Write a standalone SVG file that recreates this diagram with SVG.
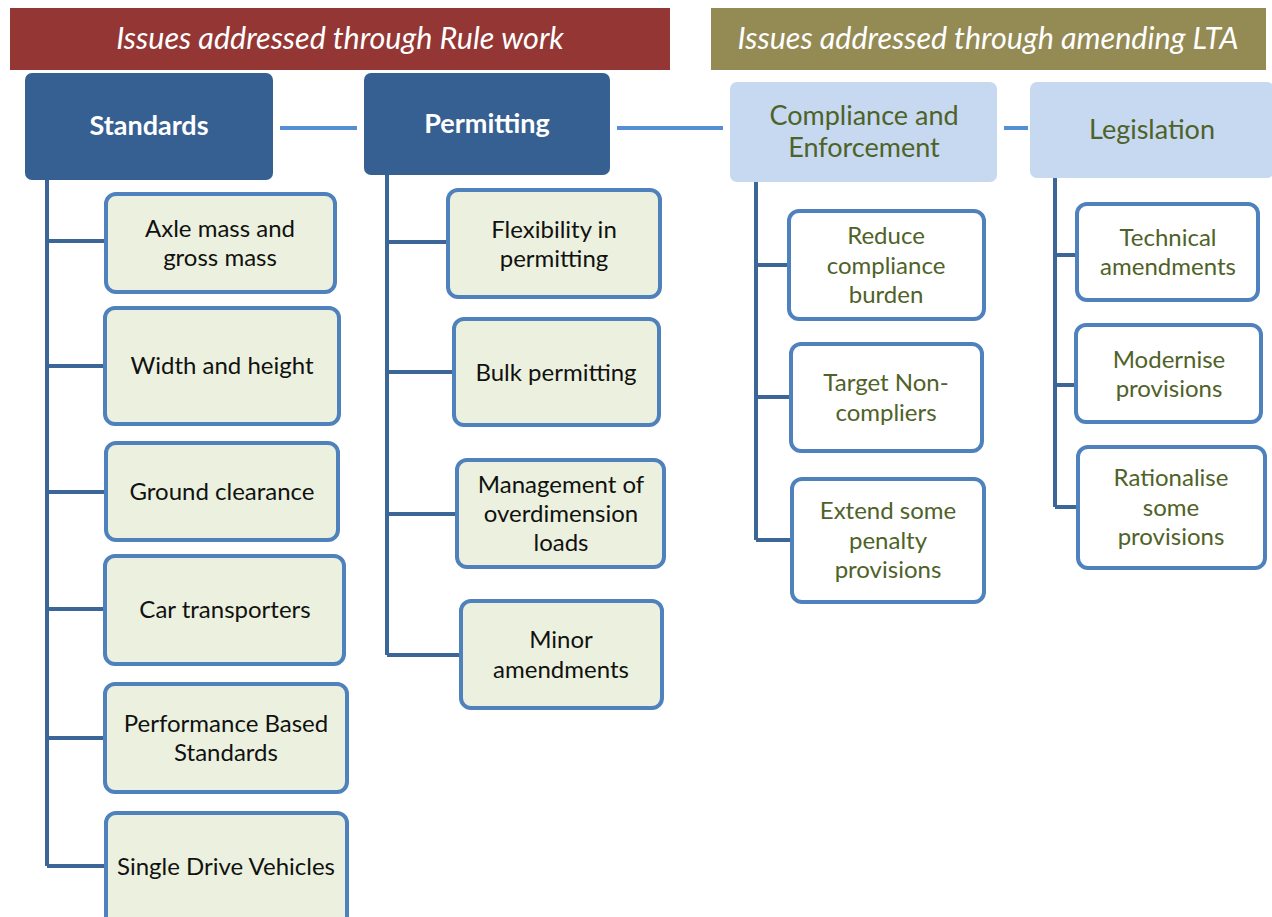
<svg xmlns="http://www.w3.org/2000/svg" width="1272" height="917" viewBox="0 0 1272 917">
<style>
text{font-family:Lato,"Open Sans","Liberation Sans",sans-serif;text-anchor:middle}
.ban{fill:#fff;font-style:italic;font-size:30.5px}
.hd{fill:#376092;}
.hdt{fill:#fff;font-weight:bold;font-size:27px}
.hl{fill:#C6D9F1}
.hlt{fill:#4F6228;font-size:27px}
.ch{fill:#EBF1DE;stroke:#4F81BD;stroke-width:4}
.cw{fill:#fff;stroke:#4F81BD;stroke-width:4}
.ct{fill:#111;font-size:24px}
.cg{fill:#4F6228;font-size:24px}
.tree{fill:none;stroke:#3D6698;stroke-width:4}
.link{fill:none;stroke:#558ED5;stroke-width:4}
</style>
<rect width="1272" height="917" fill="#fff"/>
<g id="banner-rule"><rect x="10" y="8" width="660" height="62" fill="#943634"/><text class="ban" x="340" y="49">Issues addressed through Rule work</text></g>
<g id="banner-lta"><rect x="711" y="8" width="555" height="62" fill="#948A54"/><text class="ban" x="988" y="49">Issues addressed through amending LTA</text></g>
<g id="connectors">
<path class="link" d="M280 128H357M617 128H723M1004 128H1028"/>
<path class="tree" d="M47 180V866M47 241H106M47 366H105M47 492H106M47 609H105M47 738H105M47 866H106"/>
<path class="tree" d="M387 175V655M387 242H448M387 372H454M387 514H457M387 655H461"/>
<path class="tree" d="M756 182V540M756 265H789M756 397H791M756 540H792"/>
<path class="tree" d="M1055 178V507M1055 255H1077M1055 385H1076M1055 507H1078"/>
</g>
<g id="standards"><rect class="hd" x="25" y="73" width="248" height="107" rx="7"/><text class="hdt" x="149" y="135">Standards</text></g>
<g id="permitting"><rect class="hd" x="364" y="73" width="246" height="102" rx="7"/><text class="hdt" x="487" y="133">Permitting</text></g>
<g id="compliance"><rect class="hl" x="730" y="82" width="267" height="100" rx="7"/><text class="hlt" x="864" y="125">Compliance and</text><text class="hlt" x="864" y="157">Enforcement</text></g>
<g id="legislation"><rect class="hl" x="1030" y="82" width="244" height="96" rx="7"/><text class="hlt" x="1152" y="139">Legislation</text></g>

<g id="axle"><rect class="ch" x="106" y="194" width="229" height="98" rx="10"/><text class="ct" x="220" y="237">Axle mass and</text><text class="ct" x="220" y="266">gross mass</text></g>
<g id="width"><rect class="ch" x="105" y="308" width="234" height="116" rx="10"/><text class="ct" x="222" y="374">Width and height</text></g>
<g id="ground"><rect class="ch" x="106" y="443" width="232" height="97" rx="10"/><text class="ct" x="222" y="500">Ground clearance</text></g>
<g id="car"><rect class="ch" x="105" y="556" width="239" height="108" rx="10"/><text class="ct" x="225" y="618">Car transporters</text></g>
<g id="pbs"><rect class="ch" x="105" y="684" width="242" height="108" rx="10"/><text class="ct" x="226" y="732">Performance Based</text><text class="ct" x="226" y="761">Standards</text></g>
<g id="single"><rect class="ch" x="106" y="813" width="241" height="115" rx="10"/><text class="ct" x="226" y="875">Single Drive Vehicles</text></g>

<g id="flex"><rect class="ch" x="448" y="190" width="212" height="107" rx="10"/><text class="ct" x="554" y="238">Flexibility in</text><text class="ct" x="554" y="267">permitting</text></g>
<g id="bulk"><rect class="ch" x="454" y="319" width="205" height="106" rx="10"/><text class="ct" x="556" y="381">Bulk permitting</text></g>
<g id="mgmt"><rect class="ch" x="457" y="460" width="207" height="107" rx="10"/><text class="ct" x="561" y="493">Management of</text><text class="ct" x="561" y="522">overdimension</text><text class="ct" x="561" y="551">loads</text></g>
<g id="minor"><rect class="ch" x="461" y="601" width="201" height="107" rx="10"/><text class="ct" x="561" y="648">Minor</text><text class="ct" x="561" y="678">amendments</text></g>

<g id="reduce"><rect class="cw" x="789" y="211" width="195" height="108" rx="10"/><text class="cg" x="886" y="244">Reduce</text><text class="cg" x="886" y="274">compliance</text><text class="cg" x="886" y="303">burden</text></g>
<g id="target"><rect class="cw" x="791" y="344" width="191" height="107" rx="10"/><text class="cg" x="886" y="391">Target Non-</text><text class="cg" x="886" y="421">compliers</text></g>
<g id="extend"><rect class="cw" x="792" y="479" width="192" height="123" rx="10"/><text class="cg" x="888" y="519">Extend some</text><text class="cg" x="888" y="549">penalty</text><text class="cg" x="888" y="578">provisions</text></g>

<g id="technical"><rect class="cw" x="1077" y="204" width="181" height="96" rx="10"/><text class="cg" x="1168" y="246">Technical</text><text class="cg" x="1168" y="275">amendments</text></g>
<g id="modernise"><rect class="cw" x="1076" y="325" width="185" height="97" rx="10"/><text class="cg" x="1169" y="368">Modernise</text><text class="cg" x="1169" y="397">provisions</text></g>
<g id="rationalise"><rect class="cw" x="1078" y="447" width="187" height="121" rx="10"/><text class="cg" x="1171" y="486">Rationalise</text><text class="cg" x="1171" y="516">some</text><text class="cg" x="1171" y="545">provisions</text></g>
</svg>
